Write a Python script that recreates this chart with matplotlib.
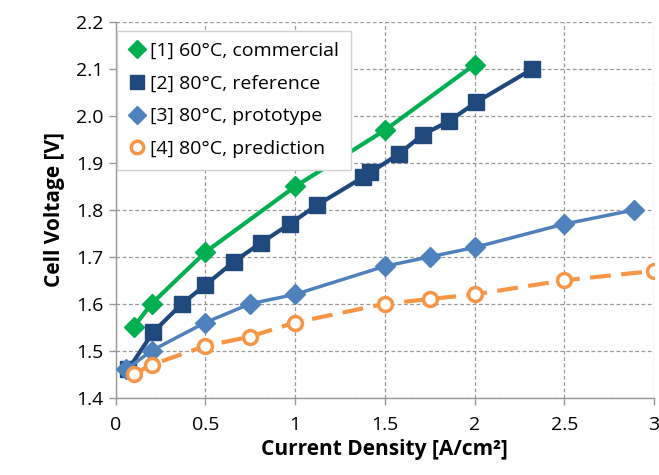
import matplotlib
matplotlib.use("Agg")
import matplotlib.pyplot as plt

# [1] 60°C, commercial
x_commercial = [0.1, 0.2, 0.5, 1.0, 1.5, 2.0]
v_commercial = [1.55, 1.60, 1.71, 1.85, 1.97, 2.11]

# [2] 80°C, reference
x_reference = [0.07, 0.21, 0.37, 0.50, 0.66, 0.81, 0.97, 1.12, 1.38, 1.42,
               1.58, 1.71, 1.86, 2.01, 2.32]
v_reference = [1.46, 1.54, 1.60, 1.64, 1.69, 1.73, 1.77, 1.81, 1.87, 1.88,
               1.92, 1.96, 1.99, 2.03, 2.10]

# [3] 80°C, prototype
x_prototype = [0.06, 0.2, 0.5, 0.75, 1.0, 1.5, 1.75, 2.0, 2.5, 2.89]
v_prototype = [1.46, 1.50, 1.56, 1.60, 1.62, 1.68, 1.70, 1.72, 1.77, 1.80]

# [4] 80°C, prediction
x_prediction = [0.1, 0.2, 0.5, 0.75, 1.0, 1.5, 1.75, 2.0, 2.5, 3.0]
v_prediction = [1.45, 1.47, 1.51, 1.53, 1.56, 1.60, 1.61, 1.62, 1.65, 1.67]

x_ticks = [0, 0.5, 1, 1.5, 2, 2.5, 3]
x_ticklabels = ["0", "0.5", "1", "1.5", "2", "2.5", "3"]
y_ticks = [1.4, 1.5, 1.6, 1.7, 1.8, 1.9, 2.0, 2.1, 2.2]

plt.rcParams['font.family'] = ['Open Sans', 'DejaVu Sans']

fig = plt.figure(figsize=(6.59, 4.75), dpi=100)
ax = fig.add_axes([0.1755, 0.163, 0.817, 0.79])

ax.plot(x_commercial, v_commercial, color='#00B050', lw=3, marker='D',
        ms=10, label='[1] 60°C, commercial', zorder=4)
ax.plot(x_reference, v_reference, color='#1F497D', lw=3, marker='s',
        ms=11, label='[2] 80°C, reference', zorder=3)
ax.plot(x_prototype, v_prototype, color='#4F81BD', lw=2.5, marker='D',
        ms=10, label='[3] 80°C, prototype', zorder=5)
ax.plot(x_prediction, v_prediction, color='#F79646', lw=3, ls=(0, (5, 2.5)),
        marker='o', ms=10, mfc='white', mew=2.5,
        label='[4] 80°C, prediction', zorder=6)

ax.set_xlim(0, 3)
ax.set_ylim(1.4, 2.2)
ax.set_xticks(x_ticks)
ax.set_xticklabels(x_ticklabels)
ax.set_yticks(y_ticks)
ax.set_yticklabels(["%.1f" % y for y in y_ticks])

ax.grid(True, color='#999999', ls=(0, (3, 2)), lw=0.9)
ax.set_axisbelow(True)
for side in ['top', 'right']:
    ax.spines[side].set_visible(False)
for side in ['left', 'bottom']:
    ax.spines[side].set_color('#999999')
    ax.spines[side].set_linewidth(1)
ax.tick_params(axis='both', colors='#999999', labelcolor='black',
               labelsize=14, length=5, width=1)
ax.tick_params(axis='x', pad=8)
ax.tick_params(axis='y', pad=4)

ax.set_xlabel('Current Density [A/cm²]', fontsize=15, fontweight='bold',
              labelpad=4)
ax.set_ylabel('Cell Voltage [V]', fontsize=15, fontweight='bold',
              labelpad=8)

leg = ax.legend(loc='upper left', bbox_to_anchor=(0.003, 0.978), fontsize=14,
                frameon=True, fancybox=False, framealpha=1,
                edgecolor='#d0d0d0', handlelength=0.8, handletextpad=0.3,
                borderpad=0.6, labelspacing=0.75, borderaxespad=0.0,
                markerscale=0.9)
for line in leg.get_lines():
    line.set_linestyle('None')

fig.savefig('out.png', dpi=100)
